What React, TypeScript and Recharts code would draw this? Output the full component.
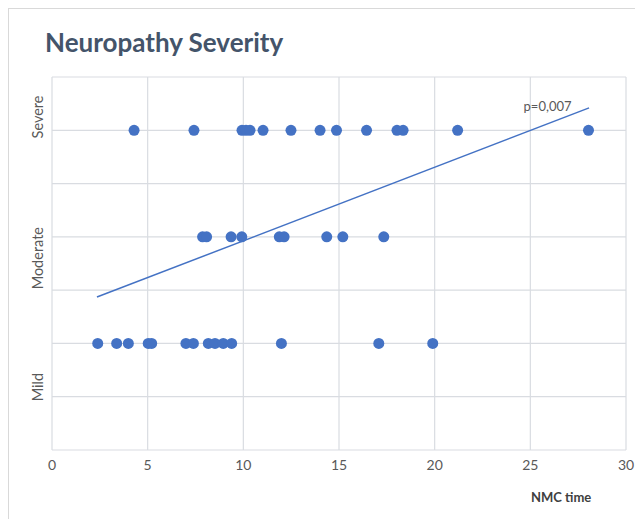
import React from 'react';
import {
  ScatterChart,
  Scatter,
  XAxis,
  YAxis,
  CartesianGrid,
  ReferenceLine,
  ReferenceDot,
} from 'recharts';

// NMC time values per severity level
const severeTimes = [4.29, 7.42, 9.93, 10.14, 10.35, 11.03, 12.49, 14.01, 14.87, 16.44, 18.03, 18.35, 21.2, 28.04];
const moderateTimes = [7.87, 8.08, 9.36, 9.92, 11.88, 12.13, 14.36, 15.2, 17.34];
const mildTimes = [2.39, 3.38, 3.99, 5.03, 5.21, 7.0, 7.39, 8.17, 8.52, 8.95, 9.39, 11.99, 17.08, 19.9];

const severityLevels = { Severe: 6, Moderate: 4, Mild: 2 };
const severityLabels = [
  { name: 'Severe', y: 6.25 },
  { name: 'Moderate', y: 3.6 },
  { name: 'Mild', y: 1.18 },
];

const xTicks = [0, 5, 10, 15, 20, 25, 30];
const yTicks = [0, 1, 2, 3, 4, 5, 6, 7];

const trendStart = { x: 2.35, y: 2.87 };
const trendEnd = { x: 28.07, y: 6.42 };
const pLabel = { x: 25.9, y: 6.45, text: 'p=0,007' };

const points = [
  ...severeTimes.map((t) => ({ x: t, y: severityLevels.Severe })),
  ...moderateTimes.map((t) => ({ x: t, y: severityLevels.Moderate })),
  ...mildTimes.map((t) => ({ x: t, y: severityLevels.Mild })),
];

const FONT = 'Lato, "Open Sans", sans-serif';

const YLabel = (props: any) => {
  const vb = props.viewBox || {};
  const x = (vb.x ?? 0) - 14;
  const y = vb.y ?? 0;
  return (
    <text
      x={x}
      y={y}
      transform={`rotate(-90 ${x} ${y})`}
      textAnchor="middle"
      dominantBaseline="central"
      fill="#595959"
      fontSize={14.5}
      fontFamily={FONT}
    >
      {props.text}
    </text>
  );
};

const EmptyTick = () => <g />;

const Dot = (props: any) => {
  const { cx, cy } = props;
  if (cx == null || cy == null) return <g />;
  return <circle cx={cx} cy={cy} r={5.5} fill="#4472C4" />;
};

export default function App() {
  return (
    <div
      style={{
        position: 'relative',
        width: 635,
        height: 511,
        borderTop: '1px solid #D9D9D9',
        borderLeft: '1px solid #D9D9D9',
        boxSizing: 'border-box',
        background: '#fff',
        fontFamily: FONT,
      }}
    >
      <div
        style={{
          position: 'absolute',
          left: 36,
          top: 17,
          fontSize: 26,
          fontWeight: 700,
          color: '#44546A',
          whiteSpace: 'nowrap',
        }}
      >
        Neuropathy Severity
      </div>
      <div
        style={{
          position: 'absolute',
          left: 522,
          top: 480,
          fontSize: 13,
          fontWeight: 700,
          color: '#404040',
          whiteSpace: 'nowrap',
        }}
      >
        NMC time
      </div>
      <ScatterChart
        width={635}
        height={511}
        margin={{ top: 69, right: 17, bottom: 39, left: 0 }}
        style={{ position: 'absolute', left: -1, top: -1 }}
      >
        <CartesianGrid stroke="#D9DCE1" strokeWidth={1.2} />
        <XAxis
          type="number"
          dataKey="x"
          domain={[0, 30]}
          ticks={xTicks}
          axisLine={false}
          tickLine={false}
          height={30}
          tickMargin={4}
          tick={{ fill: '#595959', fontSize: 14, fontFamily: FONT }}
        />
        <YAxis
          type="number"
          dataKey="y"
          domain={[0, 7]}
          ticks={yTicks}
          width={44}
          axisLine={false}
          tickLine={false}
          tick={<EmptyTick />}
        />
        {severityLabels.map((l) => (
          <ReferenceLine
            key={l.name}
            y={l.y}
            stroke="none"
            strokeOpacity={0}
            label={<YLabel text={l.name} />}
          />
        ))}
        <ReferenceLine
          segment={[trendStart, trendEnd]}
          stroke="#4472C4"
          strokeWidth={1.5}
        />
        <ReferenceDot
          x={pLabel.x}
          y={pLabel.y}
          r={0}
          fill="none"
          stroke="none"
          label={{ value: pLabel.text, position: 'center', fill: '#595959', fontSize: 13, fontFamily: FONT }}
        />
        <Scatter data={points} shape={<Dot />} isAnimationActive={false} />
      </ScatterChart>
    </div>
  );
}
